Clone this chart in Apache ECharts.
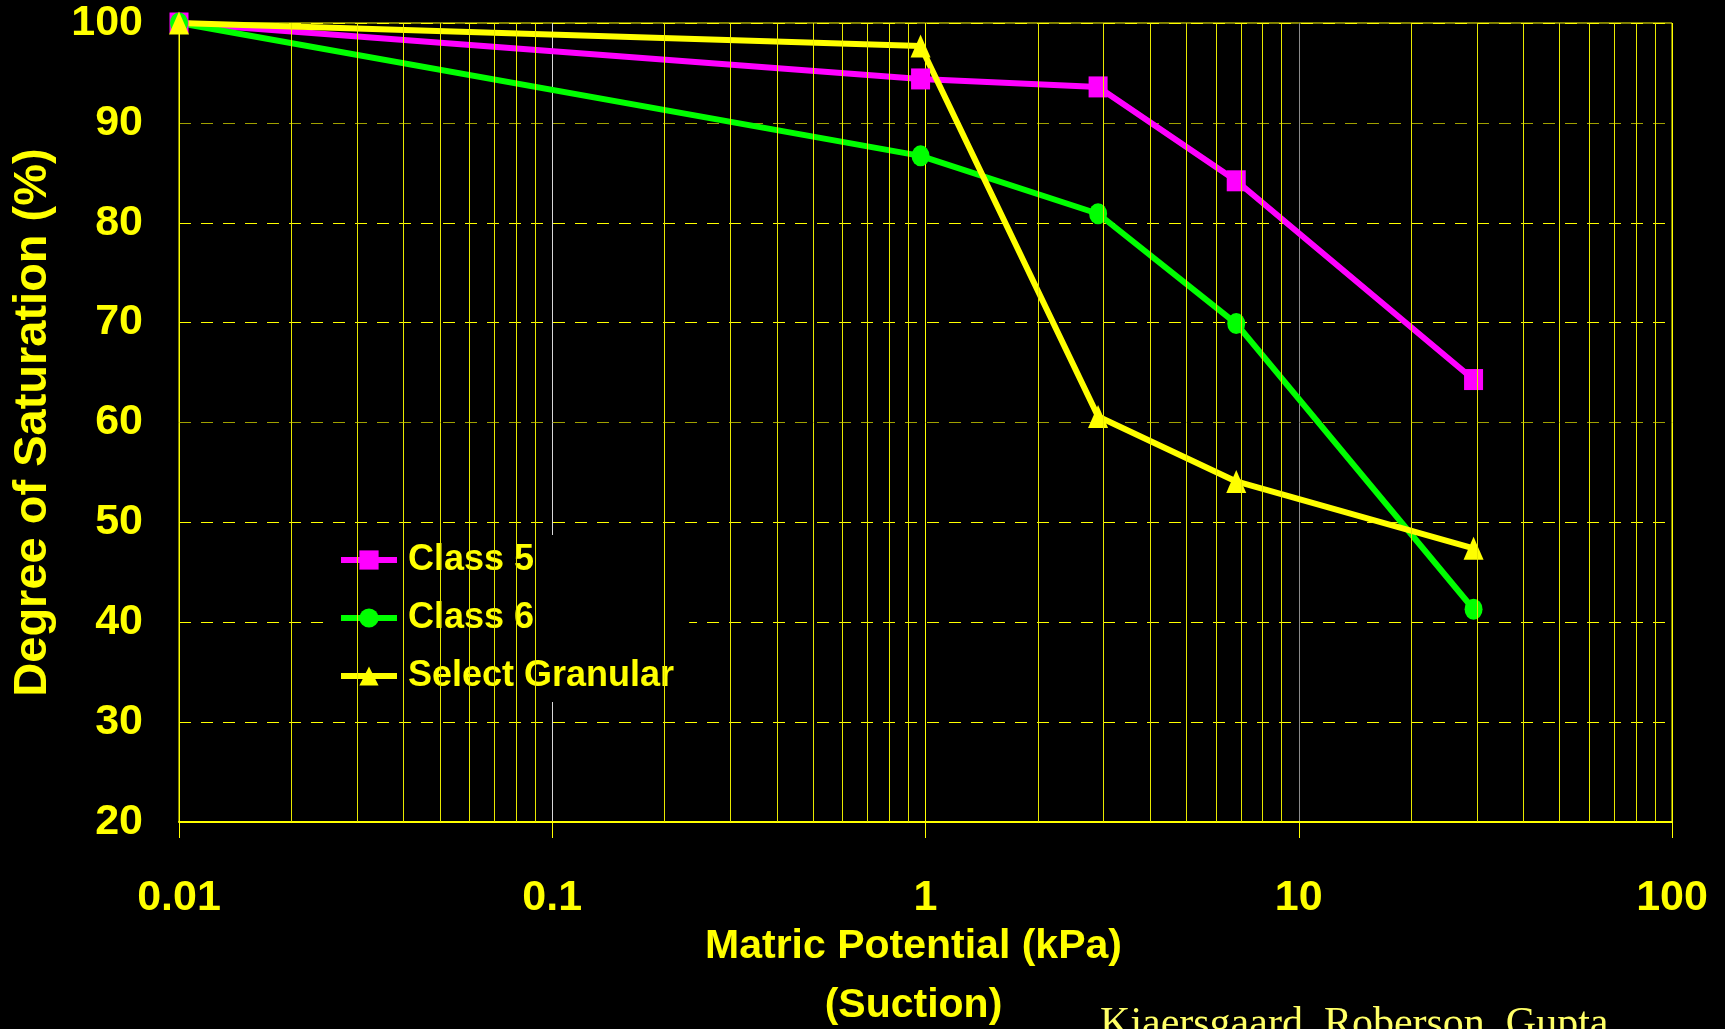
<!DOCTYPE html>
<html>
<head>
<meta charset="utf-8">
<script src="https://cdn.jsdelivr.net/npm/echarts@6/dist/echarts.min.js"></script>
<style>
html,body{margin:0;padding:0;background:#000;}
#main{width:1725px;height:1029px;}
</style>
</head>
<body>
<div id="main"></div>
<script>
// ---- data ----
const suction = [0.01, 0.97, 2.9, 6.8, 29.4];          // Matric potential (kPa)
const class5 = [100, 94.4, 93.6, 84.2, 64.3];          // Degree of saturation (%)
const class6 = [100, 86.7, 80.9, 69.9, 41.3];
const selectGranular = [100, 97.7, 60.6, 54.1, 47.4];
const seriesNames = ['Class 5', 'Class 6', 'Select Granular'];
const xTickLabels = ['0.01', '0.1', '1', '10', '100'];
const yTickLabels = ['20', '30', '40', '50', '60', '70', '80', '90', '100'];
const xTitle = 'Matric Potential (kPa)\n(Suction)';
const yTitle = 'Degree of Saturation (%)';
const credit = 'Kjaersgaard, Roberson, Gupta';

// minor log gridlines (2..9 in each decade)
const decades = [0.01, 0.1, 1, 10];
const minorGrid = [];
decades.forEach(d => { for (let m = 2; m <= 9; m++) minorGrid.push({ xAxis: +(d * m).toPrecision(3) }); });

const YEL = '#ffff00';
const SANS = '"Liberation Sans", Arial, sans-serif';

function pairs(ys) { return suction.map((x, i) => [x, ys[i]]); }

const chart = echarts.init(document.getElementById('main'), null, { renderer: 'canvas' });
chart.setOption({
  backgroundColor: '#000',
  animation: false,
  grid: { left: 179, right: 53, top: 23, bottom: 207, outerBoundsMode: 'none', containLabel: false,
          show: true, borderColor: YEL, borderWidth: 1, backgroundColor: 'transparent' },
  xAxis: {
    type: 'log', logBase: 10, min: 0.01, max: 100,
    axisLine: { show: true, lineStyle: { color: YEL, width: 2 } },
    axisTick: { show: true, length: 16, lineStyle: { color: YEL, width: 1 } },
    axisLabel: {
      color: YEL, fontFamily: SANS, fontWeight: 'bold', fontSize: 43, margin: 55,
      formatter: v => { const i = Math.round(Math.log10(v)) + 2; return xTickLabels[i] !== undefined ? xTickLabels[i] : ''; }
    },
    splitLine: { show: true, lineStyle: { color: [YEL, '#d8d8d8', YEL, '#8a8a8a', YEL], width: 1 } },
    name: xTitle, nameLocation: 'middle', nameGap: 95, nameMoveOverlap: false,
    nameTextStyle: { color: YEL, fontFamily: SANS, fontWeight: 'bold', fontSize: 41, lineHeight: 59, padding: [0, 24, 0, 0] }
  },
  yAxis: {
    type: 'value', min: 20, max: 100, interval: 10,
    axisLine: { show: false },
    axisTick: { show: false },
    axisLabel: {
      color: YEL, fontFamily: SANS, fontWeight: 'bold', fontSize: 43, margin: 36,
      formatter: v => yTickLabels[Math.round((v - 20) / 10)]
    },
    splitLine: { show: true, lineStyle: { type: [12, 10], width: 1,
      color: [YEL, YEL, YEL, YEL, '#a0a000', YEL, YEL, '#a0a000', YEL] } },
    name: yTitle, nameLocation: 'middle', nameGap: 122, nameMoveOverlap: false,
    nameTextStyle: { color: YEL, fontFamily: SANS, fontWeight: 'bold', fontSize: 47 }
  },
  legend: {
    data: seriesNames, orient: 'vertical', left: 323, top: 535,
    padding: [7, 15, 8, 15], backgroundColor: '#000',
    itemWidth: 56, itemHeight: 24, itemGap: 22,
    lineStyle: { width: 6 },
    textStyle: { color: YEL, fontFamily: SANS, fontWeight: 'bold', fontSize: 36, lineHeight: 36, padding: [0, 0, 0, 6] }
  },
  graphic: [{
    type: 'text', left: 1100, top: 1004, silent: true,
    style: { text: credit, fill: '#ffff66', font: '42px "Liberation Serif", "Times New Roman", serif' }
  }],
  series: [
    {
      name: 'gridHelper', type: 'line', data: [], z: 1, silent: true,
      markLine: { silent: true, symbol: 'none', label: { show: false }, animation: false,
        lineStyle: { color: '#e8e800', width: 1, type: 'solid' }, data: minorGrid }
    },
    {
      name: seriesNames[0], type: 'line', data: pairs(class5), z: 3,
      symbol: 'rect', symbolSize: [19, 21],
      lineStyle: { color: '#ff00ff', width: 6 }, itemStyle: { color: '#ff00ff' }
    },
    {
      name: seriesNames[1], type: 'line', data: pairs(class6), z: 3,
      symbol: 'circle', symbolSize: [18, 21],
      lineStyle: { color: '#00ff00', width: 6 }, itemStyle: { color: '#00ff00' }
    },
    {
      name: seriesNames[2], type: 'line', data: pairs(selectGranular), z: 3,
      symbol: 'triangle', symbolSize: [20, 23],
      lineStyle: { color: YEL, width: 6 }, itemStyle: { color: YEL }
    }
  ]
});
</script>
</body>
</html>
